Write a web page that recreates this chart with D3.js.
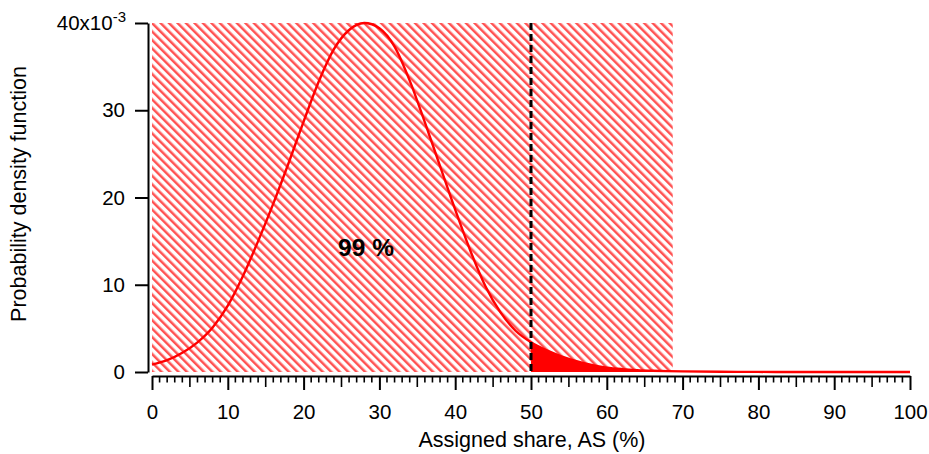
<!DOCTYPE html>
<html>
<head>
<meta charset="utf-8">
<script src="https://cdn.jsdelivr.net/npm/d3@7"></script>
<style>
  body { margin: 0; background: #fff; }
  text { font-family: "Liberation Sans", Arial, sans-serif; }
</style>
</head>
<body>
<svg id="chart" width="929" height="454"></svg>
<script>
// ---- data (pdf values in units of 1e-3) ----
const shareX = [0,2,4,6,8,10,12,14,16,18,20,22,24,26,28,30,32,34,36,38,40,42,44,46,48,50,52,54,56,58,60,62,64,66,68,70,75,80,85,90,95,100];
const pdfY   = [0.85,1.35,2.2,3.4,5.1,7.6,11.0,15.0,19.3,23.9,28.7,33.3,37.0,39.2,40.0,39.4,37.3,33.4,28.6,23.6,18.6,13.9,9.8,6.8,4.7,3.4,2.5,1.8,1.25,0.8,0.5,0.33,0.22,0.15,0.1,0.07,0.03,0.01,0,0,0,0];
const xTicks = [0,10,20,30,40,50,60,70,80,90,100];
const yTicks = [0,10,20,30,40];
const threshold = 50;      // dashed line
const hatchEnd = 68.7;     // right edge of hatched band
const centerLabel = "99 %";
const xTitle = "Assigned share, AS (%)";
const yTitle = "Probability density function";

const svg = d3.select("#chart");
const x = d3.scaleLinear().domain([0, 100]).range([152, 910]);
const y = d3.scaleLinear().domain([0, 40]).range([372, 23]);

// hatch pattern
const defs = svg.append("defs");
const pat = defs.append("pattern")
  .attr("id", "hatch")
  .attr("patternUnits", "userSpaceOnUse")
  .attr("width", 6).attr("height", 6)
  .attr("patternTransform", "rotate(-45)");
pat.append("rect").attr("x", 0).attr("y", 0).attr("width", 2.5).attr("height", 6)
  .attr("fill", "#ff0000").attr("fill-opacity", 0.68);

// hatched band
svg.append("rect")
  .attr("x", x(0)).attr("y", y(40))
  .attr("width", x(hatchEnd) - x(0))
  .attr("height", y(0) - y(40))
  .attr("fill", "url(#hatch)");

const pts = shareX.map((d, i) => [d, pdfY[i]]);

// solid tail area beyond threshold
const tail = pts.filter(p => p[0] >= threshold);
svg.append("path")
  .datum(tail)
  .attr("fill", "#ff0000")
  .attr("d", d3.area().x(p => x(p[0])).y0(y(0)).y1(p => Math.min(y(0), y(p[1]))).curve(d3.curveMonotoneX));

// curve
svg.append("path")
  .datum(pts)
  .attr("fill", "none")
  .attr("stroke", "#ff0000")
  .attr("stroke-width", 2.4)
  .attr("d", d3.line().x(p => x(p[0])).y(p => y(p[1])).curve(d3.curveMonotoneX));

// dashed threshold line
svg.append("line")
  .attr("x1", x(threshold)).attr("x2", x(threshold))
  .attr("y1", y(40)).attr("y2", y(0))
  .attr("stroke", "#000").attr("stroke-width", 3)
  .attr("stroke-dasharray", "7,4");

// y axis
const yAxis = svg.append("g")
  .attr("transform", "translate(148,0)")
  .call(d3.axisLeft(y).tickValues(yTicks).tickSize(13).tickSizeOuter(0).tickPadding(10)
        .tickFormat(d => d === 40 ? "40x10" : String(d)));
yAxis.selectAll("path, line").attr("stroke", "#000").attr("stroke-width", 2);
yAxis.selectAll("text").attr("font-size", 20.5).attr("fill", "#000")
  .style("font-family", "'Liberation Sans', Arial, sans-serif");
yAxis.selectAll(".tick").filter(d => d === 40).select("text")
  .attr("dy", "0.32em")
  .attr("x", -22)
  .each(function() {
    d3.select(this).append("tspan").attr("dy", "-0.55em").attr("font-size", 15).text("-3");
  });

// x axis
const xAxis = svg.append("g")
  .attr("transform", "translate(0,376)")
  .call(d3.axisBottom(x).tickValues(xTicks).tickSize(14).tickSizeOuter(0).tickPadding(14));
xAxis.selectAll("path, line").attr("stroke", "#000").attr("stroke-width", 2);
xAxis.selectAll("text").attr("font-size", 20.5).attr("fill", "#000")
  .style("font-family", "'Liberation Sans', Arial, sans-serif");
// minor ticks
const minor = d3.range(0, 101).filter(v => v % 10 !== 0);
svg.append("g").selectAll("line").data(minor).join("line")
  .attr("x1", d => x(d)).attr("x2", d => x(d))
  .attr("y1", 376).attr("y2", d => 376 + (d % 5 === 0 ? 11 : 6.5))
  .attr("stroke", "#000").attr("stroke-width", 1.6);

// titles
svg.append("text")
  .attr("x", 532).attr("y", 447)
  .attr("text-anchor", "middle").attr("font-size", 21.5).text(xTitle);
svg.append("text")
  .attr("transform", "translate(26,194) rotate(-90)")
  .attr("text-anchor", "middle").attr("font-size", 21.5).text(yTitle);

// centre label
svg.append("text")
  .attr("x", 366).attr("y", 256)
  .attr("text-anchor", "middle").attr("font-size", 24.5).attr("font-weight", "bold")
  .text(centerLabel);
</script>
</body>
</html>
